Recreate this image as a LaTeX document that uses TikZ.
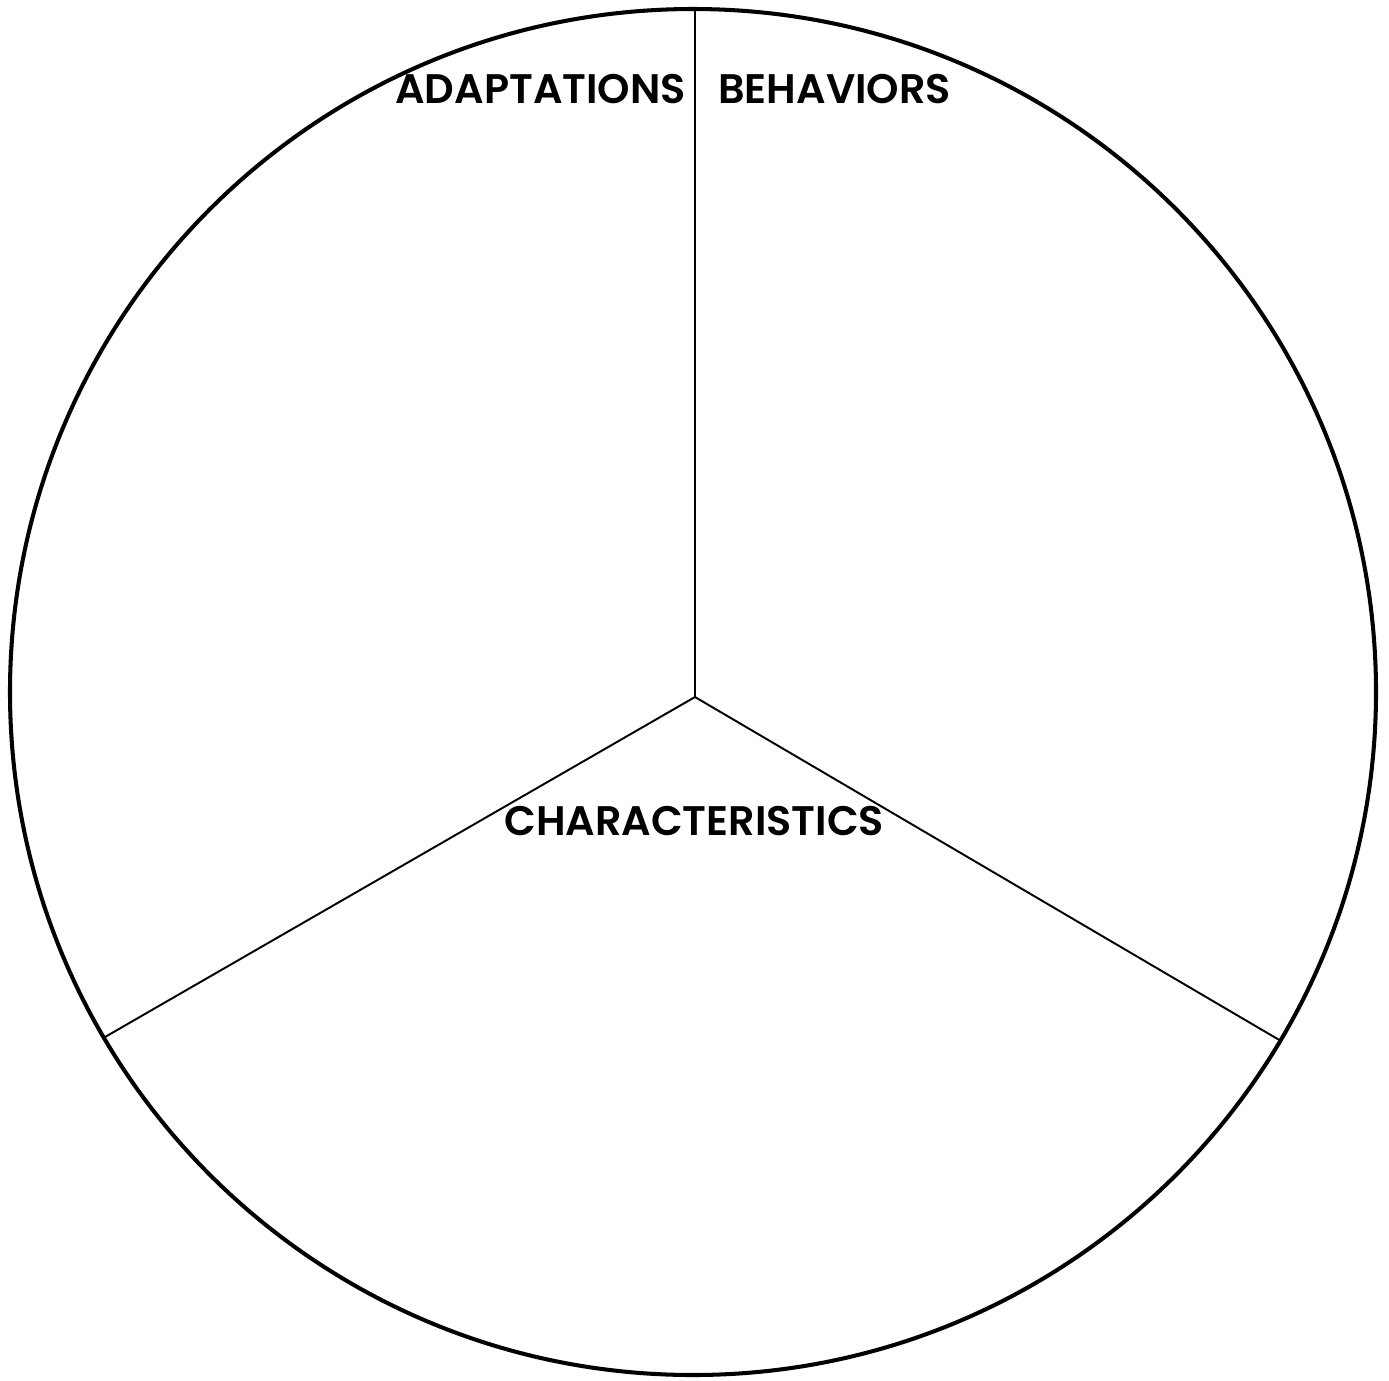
\documentclass[tikz,border=0pt]{standalone}
\usepackage{fontspec}
\newfontfamily\labelfont{Poppins SemiBold}
\usepackage{tikz}

\begin{document}
\begin{tikzpicture}[x=0.02cm, y=-0.02cm, every node/.style={inner sep=0pt, font=\labelfont\fontsize{23.5}{28}\selectfont}]
\useasboundingbox (0,0) rectangle (1389,1380);
\draw[line width=2.3pt] (693,692) circle (683);
\coordinate (c) at (695,697);
\coordinate (top) at (695,8);
\coordinate (right) at (1281,1041);
\coordinate (left) at (105,1037);
\draw[line width=1.1pt] (c) -- (top);
\draw[line width=1.1pt] (c) -- (right);
\draw[line width=1.1pt] (c) -- (left);
\node[anchor=base west] (adapt) at (395,103) {ADAPTATIONS};
\node[anchor=base west] (behav) at (718,103) {BEHAVIORS};
\node[anchor=base west] (char) at (504,835) {CHARACTERISTICS};
\end{tikzpicture}
\end{document}
